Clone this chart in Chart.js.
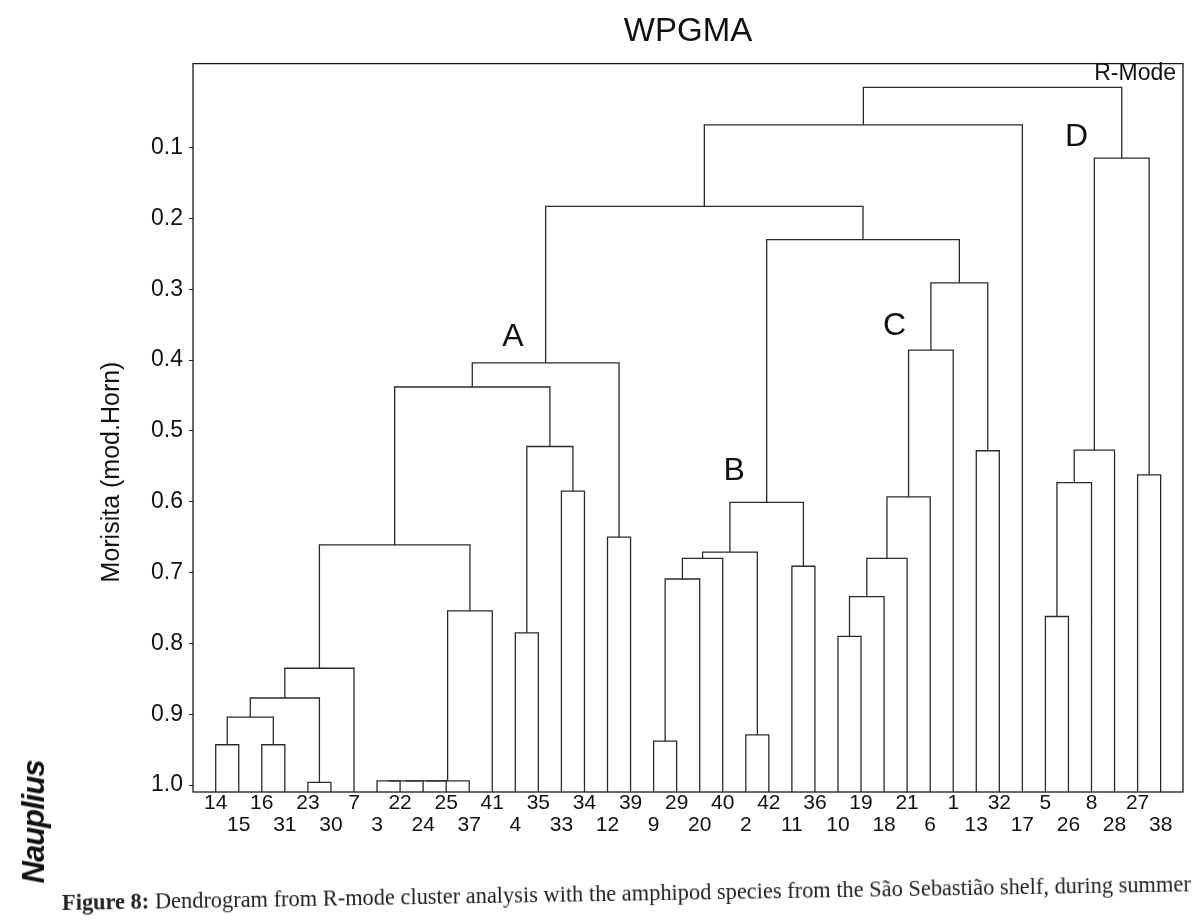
<!DOCTYPE html>
<html>
<head>
<meta charset="utf-8">
<title>WPGMA dendrogram</title>
<script src="https://cdn.jsdelivr.net/npm/chart.js@4.4.1/dist/chart.umd.min.js"></script>
<style>
  html, body { margin: 0; padding: 0; background: #fff; }
  #wrap { position: relative; width: 1194px; height: 920px; overflow: hidden; }
  #logo { position: absolute; left: 34px; top: 822px; transform: translate(-50%, -50%) rotate(-90deg);
          font: italic bold 31px "Liberation Sans", Arial, sans-serif; color: #111; white-space: nowrap; letter-spacing: -1px; }
  #caption { position: absolute; left: 62px; top: 890px; transform-origin: 0 50%; transform: rotate(-0.95deg);
             font: 22.4px "Liberation Serif", "DejaVu Serif", serif; color: #222; white-space: nowrap; }
</style>
</head>
<body>
<div id="wrap">
  <canvas id="chart" width="1194" height="920"></canvas>
  <div id="logo">Nauplius</div>
  <div id="caption"><b>Figure 8:</b> Dendrogram from R-mode cluster analysis with the amphipod species from the São Sebastião shelf, during summer</div>
</div>
<script>
// leaves, left to right
const leafLabels = ['14','15','16','31','23','30','7','3','22','24','25','37','41','4','35','33','34','12','39',
  '9','29','20','40','2','42','11','36','10','19','18','21','6','1','13','32','17','5','26','8','28','27','38'];

// merges: a string is a leaf, a number is an earlier merge
const mergeLeft  = ['14','16',0,'23',2,4,'3',6,7,8,9,5,'4','33',12,11,'12',15,'9',18,19,'2',20,'11',22,
  '10',25,26,27,28,'13',29,24,17,33,'5',35,36,'27',37,34];
const mergeRight = ['15','31',1,'30',3,'7','22','24','25','37','41',10,'35','34',13,14,'39',16,'29','20','40','42',21,'36',23,
  '19','18','21','6','1','32',30,31,32,'17','26','8','28','38',38,39];
const mergeLevel = [0.943,0.943,0.904,0.996,0.877,0.835,0.994,0.994,0.994,0.994,0.754,0.661,0.785,0.585,0.522,0.438,0.650,0.404,
  0.938,0.709,0.680,0.929,0.671,0.691,0.601,0.790,0.734,0.680,0.593,0.386,0.528,0.291,0.230,0.183,0.068,
  0.762,0.573,0.527,0.562,0.115,0.015];

const yTicks = [0.1, 0.2, 0.3, 0.4, 0.5, 0.6, 0.7, 0.8, 0.9, 1.0];
const clusterNames = ['A', 'B', 'C', 'D'];
const clusterSpots = [[12.9, 0.368], [22.5, 0.557], [29.45, 0.352], [37.35, 0.085]];

const yBase = 1.0097;
const leafIdx = {};
leafLabels.forEach((l, i) => leafIdx[l] = i);

const nodeX = [];
function posOf(ref) {
  if (typeof ref === 'number') return { x: nodeX[ref], y: mergeLevel[ref] };
  return { x: leafIdx[ref], y: yBase };
}

const datasets = mergeLevel.map((h, k) => {
  const a = posOf(mergeLeft[k]);
  const b = posOf(mergeRight[k]);
  nodeX[k] = (a.x + b.x) / 2;
  return {
    data: [{ x: a.x, y: a.y }, { x: a.x, y: h }, { x: b.x, y: h }, { x: b.x, y: b.y }],
    showLine: true,
    borderColor: '#2a2a2a',
    borderWidth: 1.3,
    pointRadius: 0,
    tension: 0
  };
});

const FONT = '"Liberation Sans", Arial, sans-serif';

const extras = {
  id: 'extras',
  afterDraw(chart) {
    const { ctx, chartArea: ca, scales } = chart;
    ctx.save();
    ctx.strokeStyle = '#1a1a1a';
    ctx.lineWidth = 1.3;
    ctx.strokeRect(ca.left, ca.top, ca.right - ca.left, ca.bottom - ca.top);

    ctx.fillStyle = '#111';
    ctx.textAlign = 'center';
    ctx.textBaseline = 'middle';
    ctx.font = '32px ' + FONT;
    clusterNames.forEach((n, i) => {
      ctx.fillText(n, scales.x.getPixelForValue(clusterSpots[i][0]), scales.y.getPixelForValue(clusterSpots[i][1]));
    });

    ctx.font = '23px ' + FONT;
    ctx.textAlign = 'right';
    ctx.fillText('R-Mode', ca.right - 7, ca.top + 10);

    ctx.translate(112, 472);
    ctx.rotate(-Math.PI / 2);
    ctx.textAlign = 'center';
    ctx.font = '25px ' + FONT;
    ctx.fillText('Morisita (mod.Horn)', 0, 0);
    ctx.restore();
  }
};

new Chart(document.getElementById('chart'), {
  type: 'scatter',
  data: { datasets },
  options: {
    responsive: false,
    animation: false,
    events: [],
    layout: { padding: { left: 0, top: 0, right: 11, bottom: 0 } },
    plugins: {
      legend: { display: false },
      tooltip: { enabled: false },
      title: {
        display: true,
        text: 'WPGMA',
        fullSize: false,
        color: '#111',
        font: { family: FONT, size: 33, weight: 'normal' },
        padding: { top: 12, bottom: 12 }
      }
    },
    scales: {
      x: {
        type: 'linear',
        min: -0.985,
        max: 41.97,
        border: { display: false },
        grid: { display: false, drawTicks: false },
        afterBuildTicks: (axis) => { axis.ticks = leafLabels.map((_, i) => ({ value: i })); },
        afterFit: (axis) => { axis.height = 128; },
        ticks: {
          autoSkip: false,
          maxRotation: 0,
          padding: 0,
          color: '#111',
          font: { family: FONT, size: 21, lineHeight: 1.05 },
          callback: (v, i) => (i % 2 === 0 ? leafLabels[i] : ['', leafLabels[i]])
        }
      },
      y: {
        type: 'linear',
        reverse: true,
        min: -0.0185,
        max: 1.0097,
        border: { display: false },
        grid: { drawOnChartArea: false, drawTicks: true, tickLength: 4, color: '#222' },
        afterBuildTicks: (axis) => { axis.ticks = yTicks.map(v => ({ value: v })); },
        afterFit: (axis) => { axis.width = 193; },
        ticks: {
          padding: 6,
          color: '#111',
          font: { family: FONT, size: 23 },
          callback: (v) => v.toFixed(1)
        }
      }
    }
  },
  plugins: [extras]
});
</script>
</body>
</html>
